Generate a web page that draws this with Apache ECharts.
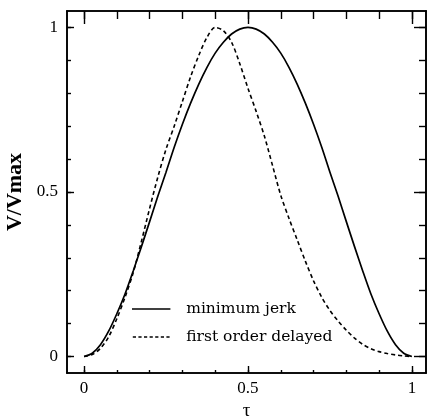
<!DOCTYPE html>
<html>
<head>
<meta charset="utf-8">
<script src="https://cdn.jsdelivr.net/npm/echarts@6/dist/echarts.min.js"></script>
<style>
  html, body { margin: 0; padding: 0; background: #fff; }
  #chart { width: 427px; height: 419px; }
</style>
</head>
<body>
<div id="chart"></div>
<script>
// normalised time
const tau = [0, 0.025, 0.05, 0.075, 0.1, 0.125, 0.15, 0.175, 0.2, 0.225, 0.25,
             0.275, 0.3, 0.325, 0.35, 0.375, 0.4, 0.425, 0.45, 0.475, 0.5,
             0.525, 0.55, 0.575, 0.6, 0.625, 0.65, 0.675, 0.7, 0.725, 0.75,
             0.775, 0.8, 0.825, 0.85, 0.875, 0.9, 0.925, 0.95, 0.975, 1];
// V/Vmax
const minimumJerk = [0, 0.01, 0.036, 0.077, 0.13, 0.19, 0.26, 0.334, 0.41, 0.487, 0.56,
                     0.636, 0.706, 0.77, 0.828, 0.879, 0.922, 0.955, 0.98, 0.995, 1,
                     0.995, 0.98, 0.955, 0.922, 0.879, 0.828, 0.77, 0.706, 0.636, 0.56,
                     0.487, 0.41, 0.334, 0.26, 0.19, 0.13, 0.077, 0.036, 0.01, 0];
const firstOrderDelayed = [0, 0.006, 0.025, 0.06, 0.115, 0.18, 0.255, 0.35, 0.45, 0.545, 0.63,
                           0.70, 0.775, 0.85, 0.915, 0.97, 1.0, 0.99, 0.955, 0.89, 0.815,
                           0.745, 0.67, 0.58, 0.49, 0.42, 0.355, 0.29, 0.23, 0.18, 0.14,
                           0.108, 0.08, 0.056, 0.037, 0.024, 0.015, 0.009, 0.005, 0.002, 0];
const majorTicks = [0, 0.5, 1];
const minorTicks = [0, 0.1, 0.2, 0.3, 0.4, 0.5, 0.6, 0.7, 0.8, 0.9, 1];

const chart = echarts.init(document.getElementById('chart'));

const serif = 'Liberation Serif';
const lineColor = '#000';

// one axis per tick set, all stacked on the same edge
function axis(kind, position, ticks, len, withLabel, extra) {
  const a = {
    type: 'value',
    position: position,
    min: kind === 'x' ? -0.052 : -0.05,
    max: kind === 'x' ? 1.043 : 1.05,
    axisLine: { show: true, onZero: false, lineStyle: { color: lineColor, width: 1.6 } },
    splitLine: { show: false },
    axisTick: {
      show: true,
      inside: true,
      length: len,
      customValues: ticks,
      lineStyle: { color: lineColor, width: 1.4 }
    },
    axisLabel: { show: false }
  };
  if (withLabel) {
    a.axisLabel = {
      show: true,
      customValues: majorTicks,
      color: '#000',
      fontFamily: serif,
      fontSize: 17,
      margin: kind === 'x' ? 7 : 9,
      formatter: v => String(v)
    };
  }
  return Object.assign(a, extra || {});
}

// legend swatches: a plain bar and a row of dashes
const solidIcon = 'path://M0,0h48v2h-48z';
const dashedIcon = 'path://M0,0h4v2h-4zM7,0h4v2h-4zM14,0h4v2h-4zM21,0h4v2h-4zM28,0h4v2h-4zM35,0h4v2h-4zM42,0h4v2h-4z';

const option = {
  backgroundColor: '#fff',
  animation: false,
  grid: { left: 67, right: 1, top: 11, bottom: 46, outerBoundsMode: 'none' },
  legend: {
    left: 132,
    top: 301,
    padding: 0,
    orient: 'vertical',
    itemWidth: 48,
    itemHeight: 1.6,
    itemGap: 12,
    textStyle: { fontFamily: 'DejaVu Serif', fontSize: 15.5, color: '#000', padding: [0, 0, 0, 6] },
    data: [
      { name: 'minimum jerk', icon: solidIcon },
      { name: 'first order delayed', icon: dashedIcon }
    ]
  },
  xAxis: [
    axis('x', 'bottom', majorTicks, 7, true, {
      name: 'τ',
      nameLocation: 'middle',
      nameGap: 24,
      nameTextStyle: { fontFamily: serif, fontSize: 19, color: '#000' }
    }),
    axis('x', 'bottom', minorTicks, 3, false),
    axis('x', 'top', majorTicks, 13, false),
    axis('x', 'top', minorTicks, 8, false)
  ],
  yAxis: [
    axis('y', 'left', majorTicks, 7, true, {
      name: 'V/Vmax',
      nameLocation: 'middle',
      nameGap: 31,
      nameTextStyle: { fontFamily: serif, fontSize: 22, fontWeight: 'bold', color: '#000' }
    }),
    axis('y', 'left', minorTicks, 4, false),
    axis('y', 'right', majorTicks, 12, false),
    axis('y', 'right', minorTicks, 7, false)
  ],
  series: [
    {
      name: 'minimum jerk',
      type: 'line',
      xAxisIndex: 0,
      yAxisIndex: 0,
      data: tau.map((t, i) => [t, minimumJerk[i]]),
      smooth: 0.3,
      symbol: 'none',
      lineStyle: { color: lineColor, width: 1.7 },
      itemStyle: { color: lineColor }
    },
    {
      name: 'first order delayed',
      type: 'line',
      xAxisIndex: 0,
      yAxisIndex: 0,
      data: tau.map((t, i) => [t, firstOrderDelayed[i]]),
      smooth: 0.3,
      symbol: 'none',
      lineStyle: { color: lineColor, width: 1.6, type: [4, 3] },
      itemStyle: { color: lineColor }
    }
  ]
};

chart.setOption(option);
</script>
</body>
</html>
